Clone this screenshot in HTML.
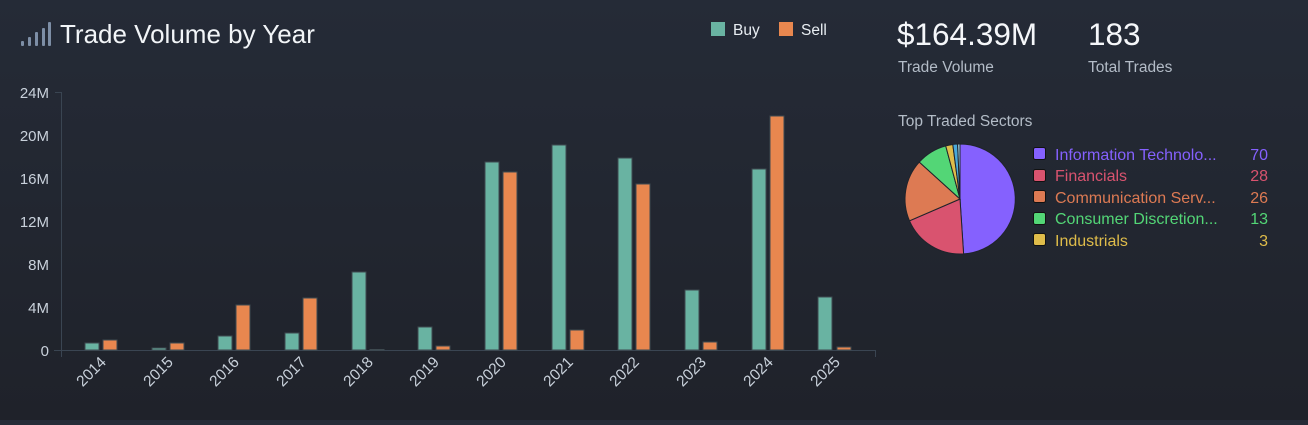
<!DOCTYPE html>
<html><head><meta charset="utf-8"><style>
html,body{margin:0;padding:0}
body{width:1308px;height:420px;overflow:hidden;background:linear-gradient(#252b37,#1f222a);font-family:"Liberation Sans",sans-serif}
</style></head><body>
<svg width="1308" height="420" xmlns="http://www.w3.org/2000/svg" font-family="Liberation Sans, sans-serif">
<g fill="#7d8ea6">
<rect x="21" y="41" width="3" height="5" rx="1"/>
<rect x="28" y="37" width="3" height="9" rx="1"/>
<rect x="35" y="32" width="3" height="14" rx="1"/>
<rect x="42" y="28" width="3" height="18" rx="1"/>
<rect x="48" y="22" width="3" height="24" rx="1"/>
</g>
<text x="60" y="43" font-size="26" fill="#f2f5f8">Trade Volume by Year</text>
<rect x="711" y="22" width="14" height="14" fill="#69b3a2"/>
<text x="733" y="35" font-size="15.5" fill="#e8edf2">Buy</text>
<rect x="779" y="22" width="14" height="14" fill="#e8874f"/>
<text x="801" y="35" font-size="15.5" fill="#e8edf2">Sell</text>
<g font-size="15" fill="#c9d1db" text-anchor="end">
<text x="49" y="356">0</text><text x="49" y="313">4M</text><text x="49" y="270">8M</text>
<text x="49" y="227">12M</text><text x="49" y="184">16M</text><text x="49" y="141">20M</text><text x="49" y="98">24M</text>
</g>
<g stroke="#3a4552" stroke-width="1">
<line x1="61.5" y1="92" x2="61.5" y2="357"/>
<line x1="55" y1="92.5" x2="61" y2="92.5"/>
<line x1="54" y1="350.5" x2="875" y2="350.5"/>
<line x1="875.5" y1="350" x2="875.5" y2="357"/>
</g>
<g stroke="#3e4a50" stroke-width="1">
<g fill="#69b3a2">
<rect x="85" y="343" width="14" height="7"/>
<rect x="152" y="348" width="14" height="2"/>
<rect x="218" y="336" width="14" height="14"/>
<rect x="285" y="333" width="14" height="17"/>
<rect x="352" y="272" width="14" height="78"/>
<rect x="418" y="327" width="14" height="23"/>
<rect x="485" y="162" width="14" height="188"/>
<rect x="552" y="145" width="14" height="205"/>
<rect x="618" y="158" width="14" height="192"/>
<rect x="685" y="290" width="14" height="60"/>
<rect x="752" y="169" width="14" height="181"/>
<rect x="818" y="297" width="14" height="53"/>
</g>
<g fill="#e8874f">
<rect x="103" y="340" width="14" height="10"/>
<rect x="170" y="343" width="14" height="7"/>
<rect x="236" y="305" width="14" height="45"/>
<rect x="303" y="298" width="14" height="52"/>
<rect x="370" y="349.5" width="14" height="0.5"/>
<rect x="436" y="346" width="14" height="4"/>
<rect x="503" y="172" width="14" height="178"/>
<rect x="570" y="330" width="14" height="20"/>
<rect x="636" y="184" width="14" height="166"/>
<rect x="703" y="342" width="14" height="8"/>
<rect x="770" y="116" width="14" height="234"/>
<rect x="837" y="347" width="14" height="3"/>
</g>
</g>
<g font-size="15.5" fill="#c9d1db" text-anchor="end">
<text transform="translate(107,363) rotate(-45)">2014</text>
<text transform="translate(174,363) rotate(-45)">2015</text>
<text transform="translate(240,363) rotate(-45)">2016</text>
<text transform="translate(307,363) rotate(-45)">2017</text>
<text transform="translate(374,363) rotate(-45)">2018</text>
<text transform="translate(440,363) rotate(-45)">2019</text>
<text transform="translate(507,363) rotate(-45)">2020</text>
<text transform="translate(574,363) rotate(-45)">2021</text>
<text transform="translate(640,363) rotate(-45)">2022</text>
<text transform="translate(707,363) rotate(-45)">2023</text>
<text transform="translate(774,363) rotate(-45)">2024</text>
<text transform="translate(841,363) rotate(-45)">2025</text>
</g>
<text x="897" y="45" font-size="31.5" fill="#f5f7fa">$164.39M</text>
<text x="1088" y="45" font-size="31.5" fill="#f5f7fa">183</text>
<text x="898" y="72" font-size="15.5" fill="#b3bcc7">Trade Volume</text>
<text x="1088" y="72" font-size="15.5" fill="#b3bcc7">Total Trades</text>
<text x="898" y="126" font-size="15.5" fill="#b3bcc7">Top Traded Sectors</text>
<g stroke="#1f232b" stroke-width="1">
<path d="M960,199 L960,144 A55,55 0 0 1 963.6,253.9 Z" fill="#8561fe"/>
<path d="M960,199 L963.6,253.9 A55,55 0 0 1 909.5,220.8 Z" fill="#d9536f"/>
<path d="M960,199 L909.5,220.8 A55,55 0 0 1 919.3,162.1 Z" fill="#dd7a53"/>
<path d="M960,199 L919.3,162.1 A55,55 0 0 1 945.7,145.9 Z" fill="#53d676"/>
<path d="M960,199 L945.7,145.9 A55,55 0 0 1 952.8,144.5 Z" fill="#dfbc4a"/>
<path d="M960,199 L952.8,144.5 A55,55 0 0 1 957.6,144.05 Z" fill="#4aa9d9"/>
<path d="M960,199 L957.6,144.05 A55,55 0 0 1 960,144 Z" fill="#9fd6e8"/>
</g>
<g stroke="#111" stroke-width="1">
<rect x="1033.5" y="147.5" width="12" height="12" rx="2" fill="#8561fe"/>
<rect x="1033.5" y="169.5" width="12" height="12" rx="2" fill="#d9536f"/>
<rect x="1033.5" y="190.5" width="12" height="12" rx="2" fill="#dd7a53"/>
<rect x="1033.5" y="212.5" width="12" height="12" rx="2" fill="#53d676"/>
<rect x="1033.5" y="233.5" width="12" height="12" rx="2" fill="#dfbc4a"/>
</g>
<g font-size="16">
<text x="1055" y="160" fill="#8561fe">Information Technolo...</text>
<text x="1055" y="181" fill="#d9536f">Financials</text>
<text x="1055" y="203" fill="#dd7a53">Communication Serv...</text>
<text x="1055" y="224" fill="#53d676">Consumer Discretion...</text>
<text x="1055" y="246" fill="#dfbc4a">Industrials</text>
</g>
<g font-size="16" text-anchor="end">
<text x="1268" y="160" fill="#8561fe">70</text>
<text x="1268" y="181" fill="#d9536f">28</text>
<text x="1268" y="203" fill="#dd7a53">26</text>
<text x="1268" y="224" fill="#53d676">13</text>
<text x="1268" y="246" fill="#dfbc4a">3</text>
</g>
</svg>
</body></html>
